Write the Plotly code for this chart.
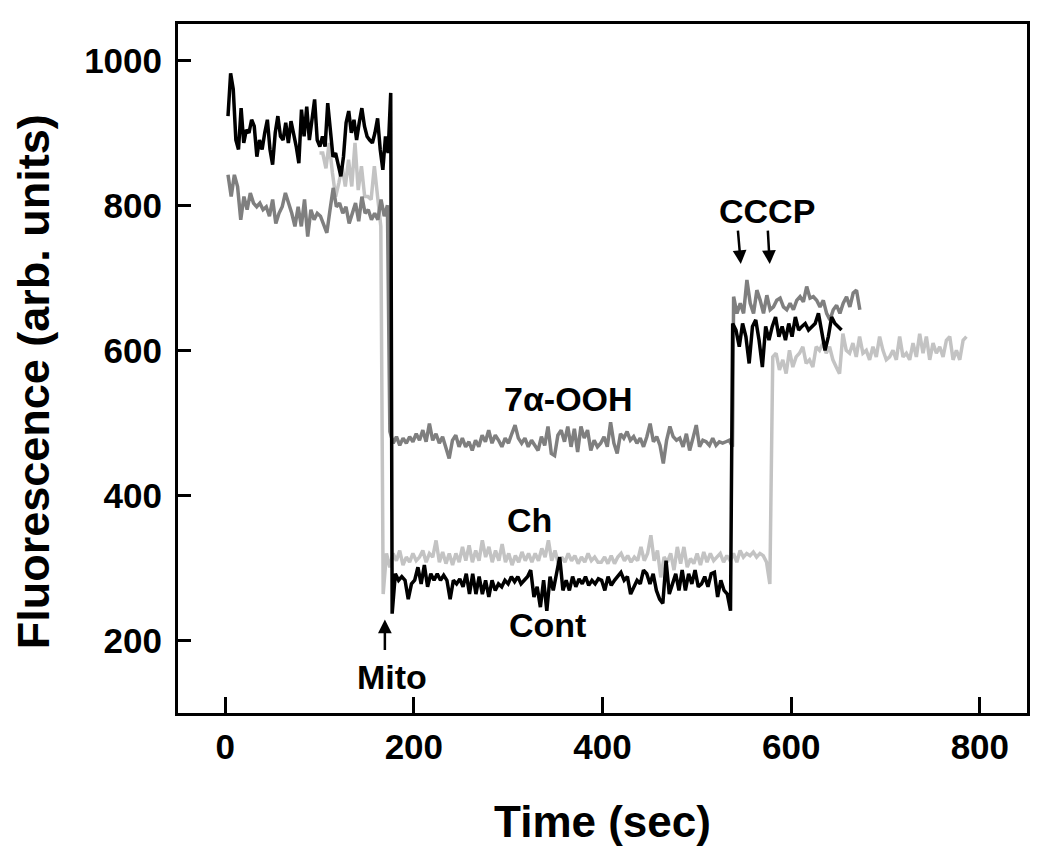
import numpy as np
import plotly.graph_objects as go

# ---------------- data ----------------
# Each trace is a list of recorded segments: (t_start, t_end, values)
cont_seg1_t = (3, 175.5)
cont_seg1 = [923, 982, 960, 890, 877, 934, 886, 904, 900, 918, 909, 867, 890, 877, 900, 918,
             877, 856, 900, 923, 895, 890, 914, 886, 916, 900, 881, 858, 932, 895, 936, 890,
             914, 946, 890, 881, 895, 881, 941, 900, 867, 872, 858, 840, 867, 914, 930, 900,
             918, 890, 914, 934, 909, 895, 890, 886, 900, 920, 877, 849, 895, 872, 955]
cont_seg2_t = (177, 535.7)
cont_seg2 = [237,
             292, 283, 288, 283, 257, 278, 283, 301, 278, 304, 274, 292, 283, 292, 283, 290,
             283, 257, 283, 278, 285, 274, 292, 264, 292, 264, 288, 264, 283, 260, 283, 269,
             278, 274, 283, 278, 288, 281, 288, 278, 283, 288, 297, 260, 274, 246, 283, 241,
             288, 269, 292, 315, 269, 283, 269, 288, 274, 285, 278, 288, 276, 283, 278, 285,
             283, 269, 288, 276, 283, 288, 294, 283, 288, 264, 274, 283, 278, 297, 292, 278,
             292, 269, 257, 251, 310, 264, 278, 292, 269, 297, 269, 292, 278, 297, 274, 278,
             288, 274, 292, 294, 260, 283, 269, 264, 241]
cont_seg3_t = (538, 653.4)
cont_seg3 = [637, 628, 605, 637, 619, 582, 633, 642, 614, 577, 633, 614, 633, 646, 619, 633,
             614, 637, 619, 646, 628, 633, 637, 628, 633, 637, 651, 628, 600, 619, 646, 637,
             633, 628]

ooh_seg1_t = (3, 172)
ooh_seg1 = [842, 812, 842, 826, 780, 812, 794, 817, 803, 798, 803, 794, 798, 785, 808, 775,
            789, 798, 817, 803, 789, 771, 798, 771, 808, 757, 794, 780, 789, 785, 775, 762,
            794, 824, 798, 803, 789, 798, 775, 789, 803, 778, 812, 789, 794, 780, 789, 780,
            808, 785, 800]
ooh_seg2_t = (174.6, 537.8)
ooh_seg2 = [488, 472, 481, 469, 479, 472, 481, 474, 485, 476, 490, 474, 499, 476, 485, 472,
            481, 467, 451, 476, 483, 467, 479, 467, 474, 462, 476, 467, 483, 474, 490, 472,
            483, 476, 467, 479, 472, 485, 497, 479, 472, 479, 467, 476, 469, 462, 481, 469,
            495, 458, 455, 483, 490, 474, 495, 467, 492, 460, 495, 479, 490, 462, 476, 467,
            472, 481, 467, 501, 472, 458, 485, 479, 488, 476, 481, 472, 479, 467, 481, 499,
            474, 481, 469, 444, 476, 495, 481, 476, 479, 467, 485, 462, 479, 497, 467, 476,
            474, 469, 479, 469, 474, 472, 474, 476, 467]
ooh_seg3_t = (539, 672.8)
ooh_seg3 = [674, 651, 665, 651, 697, 665, 651, 683, 669, 651, 676, 656, 660, 669, 672, 660,
            656, 665, 656, 669, 674, 667, 688, 672, 674, 669, 660, 669, 651, 642, 656, 662,
            651, 665, 674, 660, 679, 683, 656]

ch_seg1_t = (100, 165)
ch_seg1 = [872, 872, 851, 886, 845, 812, 831, 854, 826, 863, 826, 886, 821, 854, 812, 812,
           808, 854, 812, 771]
ch_seg2_t = (167.5, 577.4)
ch_seg2 = [264,
           320, 301, 320, 310, 324, 304, 315, 308, 320, 310, 315, 324, 308, 320, 315, 338,
           308, 322, 306, 320, 304, 320, 308, 329, 310, 331, 308, 324, 310, 338, 315, 329,
           308, 324, 310, 333, 308, 320, 304, 317, 308, 322, 310, 320, 308, 320, 310, 327,
           315, 338, 310, 324, 306, 315, 308, 320, 310, 317, 306, 315, 308, 320, 310, 315,
           308, 308, 315, 306, 317, 306, 315, 320, 310, 317, 308, 315, 310, 329, 310, 320,
           345, 310, 324, 287, 315, 308, 320, 297, 329, 306, 329, 301, 313, 306, 320, 304,
           322, 308, 320, 310, 315, 320, 308, 317, 310, 320, 308, 324, 315, 320, 317, 322,
           315, 320, 317, 308, 278]
ch_seg3_t = (580.5, 785.8)
ch_seg3 = [591, 596, 573, 587, 568, 600, 577, 591, 596, 605, 582, 587, 577, 605, 600, 610,
           596, 605, 587, 577, 568, 623, 600, 596, 610, 591, 619, 596, 600, 587, 605, 591,
           619, 600, 587, 591, 600, 587, 619, 591, 596, 587, 610, 591, 623, 596, 619, 587,
           610, 596, 605, 591, 614, 619, 587, 600, 587, 614, 619]

x_ticks = [0, 200, 400, 600, 800]
y_ticks = [200, 400, 600, 800, 1000]


def build(segments):
    ts, vs = [], []
    for (t0, t1), vals in segments:
        ts.append(np.linspace(t0, t1, len(vals)))
        vs.append(np.asarray(vals, dtype=float))
    return np.concatenate(ts), np.concatenate(vs)


ch_t, ch_v = build([(ch_seg1_t, ch_seg1), (ch_seg2_t, ch_seg2), (ch_seg3_t, ch_seg3)])
ooh_t, ooh_v = build([(ooh_seg1_t, ooh_seg1), (ooh_seg2_t, ooh_seg2), (ooh_seg3_t, ooh_seg3)])
cont_t, cont_v = build([(cont_seg1_t, cont_seg1), (cont_seg2_t, cont_seg2), (cont_seg3_t, cont_seg3)])

FONT = "Liberation Sans, Arial, Helvetica, sans-serif"

fig = go.Figure()
fig.add_trace(go.Scatter(x=ch_t, y=ch_v, mode="lines", name="Ch",
                         line=dict(color="#c3c3c3", width=3.5)))
fig.add_trace(go.Scatter(x=ooh_t, y=ooh_v, mode="lines", name="7α-OOH",
                         line=dict(color="#7f7f7f", width=3.5)))
fig.add_trace(go.Scatter(x=cont_t, y=cont_v, mode="lines", name="Cont",
                         line=dict(color="#000000", width=3.5)))

ann_font = dict(family=FONT, size=34, color="black", weight="bold")
texts = [("7α-OOH", 364, 533), ("Ch", 323, 366), ("Cont", 341.6, 221),
         ("Mito", 176.7, 150), ("CCCP", 574, 792)]
for t, x, y in texts:
    fig.add_annotation(x=x, y=y, xref="x", yref="y", text=t, showarrow=False,
                       font=ann_font, xanchor="center", yanchor="middle")

arrows = [(169.3, 229, 0, 32), (546.6, 719, -3, -35), (577.3, 719, -2, -35)]
for x, y, ax, ay in arrows:
    fig.add_annotation(x=x, y=y, xref="x", yref="y", text="", showarrow=True,
                       ax=ax, ay=ay, arrowhead=2, arrowsize=1.1, arrowwidth=2.5,
                       arrowcolor="black", standoff=0, startstandoff=0)

# y axis title (placed as a rotated label left of the tick labels)
fig.add_annotation(x=0, y=0.48, xref="paper", yref="paper", xshift=-145,
                   text="Fluorescence (arb. units)", textangle=-90, showarrow=False,
                   xanchor="center", yanchor="middle",
                   font=dict(family=FONT, size=45, color="black", weight="bold"))

axis_common = dict(showgrid=False, zeroline=False, showline=True, linecolor="black",
                   linewidth=3, mirror=True, ticks="inside", tickcolor="black",
                   tickwidth=3, tickfont=dict(family=FONT, size=35, color="black", weight="bold"))

fig.update_xaxes(range=[-50, 850], tickvals=x_ticks, ticklen=16, ticklabelstandoff=1,
                 title=dict(text="Time (sec)", standoff=42,
                            font=dict(family=FONT, size=44, color="black", weight="bold")),
                 **axis_common)
fig.update_yaxes(range=[100, 1050], tickvals=y_ticks, ticklen=13, ticklabelstandoff=6,
                 **axis_common)

# the page body adds an 8 px offset, so margins are trimmed by 8 px on the left/top
fig.update_layout(width=1050, height=864, margin=dict(l=170, r=31, t=16, b=159),
                  paper_bgcolor="white", plot_bgcolor="white", showlegend=False,
                  font=dict(family=FONT, color="black"))

fig.write_html("out.html")
